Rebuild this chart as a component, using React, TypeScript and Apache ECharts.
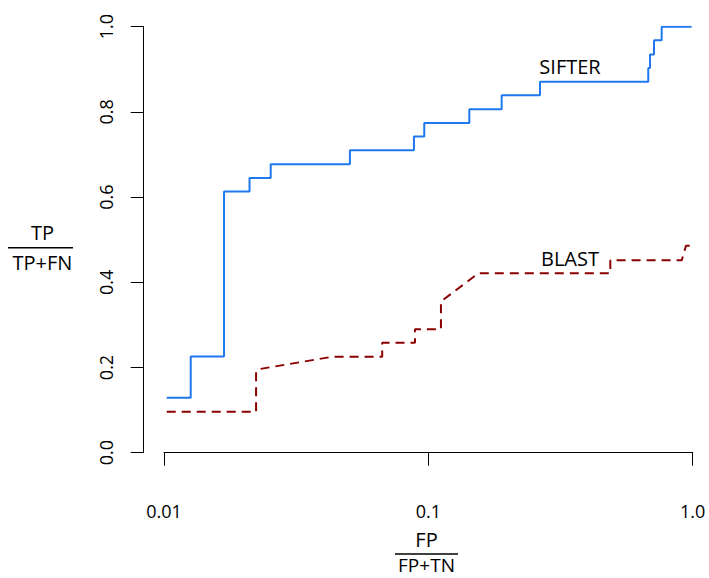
import React, { useEffect, useRef } from "react";
import * as echarts from "echarts";

// SIFTER ROC-like curve (step, horizontal then vertical)
const sifterX = [0.01024, 0.01262, 0.01687, 0.02106, 0.02533, 0.0505, 0.0882, 0.0965, 0.1429, 0.1894, 0.2645, 0.679, 0.6896, 0.714, 0.7632, 0.991];
const sifterY = [0.129, 0.226, 0.613, 0.645, 0.677, 0.71, 0.742, 0.774, 0.806, 0.839, 0.871, 0.903, 0.935, 0.968, 1.0, 1.0];

// BLAST curve (polyline)
const blastX = [0.01024, 0.0223, 0.0223, 0.0228, 0.0431, 0.0669, 0.0669, 0.089, 0.089, 0.1116, 0.1116, 0.1545, 0.488, 0.488, 0.909, 0.943, 1.0];
const blastY = [0.096, 0.096, 0.19, 0.196, 0.225, 0.225, 0.258, 0.258, 0.29, 0.29, 0.355, 0.421, 0.421, 0.452, 0.452, 0.486, 0.486];

const xTickLabels = ["0.01", "0.1", "1.0"];
const yTickLabels = ["0.0", "0.2", "0.4", "0.6", "0.8", "1.0"];

const FONT = "'Open Sans', 'Noto Sans', sans-serif";

export default function App() {
  const ref = useRef<HTMLDivElement>(null);

  useEffect(() => {
    if (!ref.current) return;
    const chart = echarts.init(ref.current, null, { renderer: "svg" });
    const sifterData = sifterX.map((x, i) => [x, sifterY[i]]);
    const blastData = blastX.map((x, i) => [x, blastY[i]]);

    chart.setOption({
      animation: false,
      backgroundColor: "#ffffff",
      grid: { left: 164, right: 16.3, top: 26.7, bottom: 125.3, containLabel: false },
      xAxis: {
        type: "log",
        logBase: 10,
        min: 0.01,
        max: 1,
        offset: 17.3,
        axisLine: { show: true, lineStyle: { color: "#000", width: 1 } },
        axisTick: { show: true, inside: false, length: 13, lineStyle: { color: "#000", width: 1 } },
        splitLine: { show: false },
        axisLabel: {
          margin: 32,
          fontFamily: FONT,
          fontSize: 18,
          color: "#000",
          showMinLabel: true,
          showMaxLabel: true,
          formatter: (v: number) => {
            const idx = Math.round(Math.log10(v)) + 2;
            return xTickLabels[idx] ?? "";
          },
        },
      },
      yAxis: {
        type: "value",
        min: 0,
        max: 1,
        interval: 0.2,
        offset: 20.3,
        axisLine: { show: true, lineStyle: { color: "#000", width: 1 } },
        axisTick: { show: true, inside: false, length: 13, lineStyle: { color: "#000", width: 1 } },
        splitLine: { show: false },
        axisLabel: {
          margin: 29,
          rotate: 90,
          fontFamily: FONT,
          fontSize: 18,
          color: "#000",
          formatter: (v: number) => yTickLabels[Math.round(v / 0.2)] ?? "",
        },
      },
      series: [
        {
          name: "SIFTER",
          type: "line",
          step: "end",
          data: sifterData,
          showSymbol: false,
          symbol: "none",
          lineStyle: { color: "#1f78f0", width: 2 },
          z: 3,
        },
        {
          name: "BLAST",
          type: "line",
          data: blastData,
          showSymbol: false,
          symbol: "none",
          lineStyle: { color: "#8b0000", width: 2, type: [9, 6] },
          z: 2,
        },
      ],
      graphic: [
        {
          type: "text",
          x: 570,
          y: 66,
          style: { text: "SIFTER", font: `20px ${FONT}`, fill: "#000", align: "center", verticalAlign: "middle" },
        },
        {
          type: "text",
          x: 570,
          y: 258,
          style: { text: "BLAST", font: `20px ${FONT}`, fill: "#000", align: "center", verticalAlign: "middle" },
        },
        {
          type: "text",
          x: 42.5,
          y: 232.5,
          style: { text: "TP", font: `20px ${FONT}`, fill: "#000", align: "center", verticalAlign: "middle" },
        },
        {
          type: "line",
          shape: { x1: 8, y1: 247.7, x2: 73, y2: 247.7 },
          style: { stroke: "#000", lineWidth: 1.5 },
        },
        {
          type: "text",
          x: 42.5,
          y: 262.5,
          style: { text: "TP+FN", font: `20px ${FONT}`, fill: "#000", align: "center", verticalAlign: "middle" },
        },
        {
          type: "text",
          x: 426.5,
          y: 539.5,
          style: { text: "FP", font: `20px ${FONT}`, fill: "#000", align: "center", verticalAlign: "middle" },
        },
        {
          type: "line",
          shape: { x1: 395, y1: 554, x2: 458, y2: 554 },
          style: { stroke: "#000", lineWidth: 1.5 },
        },
        {
          type: "text",
          x: 426.5,
          y: 565,
          style: { text: "FP+TN", font: `19px ${FONT}`, lineHeight: 19, fill: "#000", align: "center", verticalAlign: "middle" },
        },
      ],
    });

    return () => {
      chart.dispose();
    };
  }, []);

  return (
    <div
      ref={ref}
      style={{ position: "fixed", left: 0, top: 0, width: 709, height: 578, background: "#fff" }}
    />
  );
}
